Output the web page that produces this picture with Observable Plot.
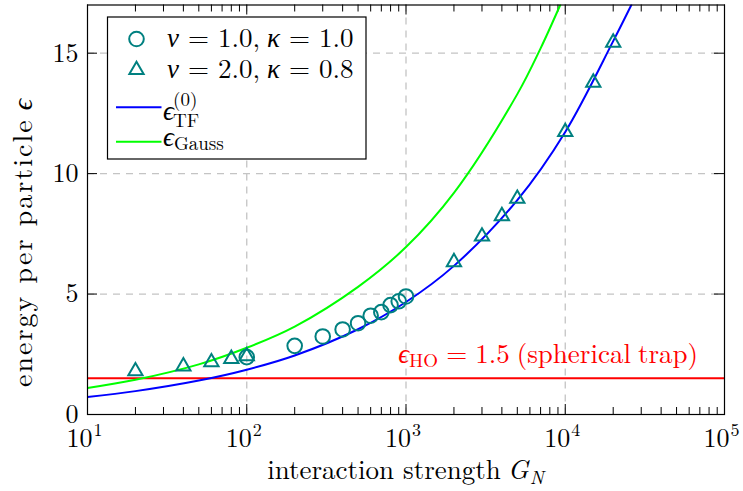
<!DOCTYPE html>
<html>
<head>
<meta charset="utf-8">
<script src="https://cdn.jsdelivr.net/npm/d3@7"></script>
<script src="https://cdn.jsdelivr.net/npm/@observablehq/plot@0.6"></script>
<style>
  html, body { margin: 0; padding: 0; background: #fff; }
</style>
</head>
<body>
<div id="chart"></div>
<script>
// Energy per particle against interaction strength G_N (log axis).

// Simulation points, nu = 1.0, kappa = 1.0
const circleG = [100, 200, 300, 400, 500, 600, 700, 800, 900, 1000];
const circleE = [2.38, 2.85, 3.24, 3.53, 3.79, 4.10, 4.25, 4.54, 4.70, 4.90];

// Simulation points, nu = 2.0, kappa = 0.8
const triG = [20, 40, 60, 80, 100, 2000, 3000, 4000, 5000, 10000, 15000, 20000];
const triE = [1.80, 2.00, 2.17, 2.31, 2.42, 6.33, 7.39, 8.24, 8.96, 11.73, 13.78, 15.44];

// Thomas-Fermi energy curve
const tfG = [10, 20, 50, 100, 200, 500, 1000, 2000, 5000, 10000, 20000, 26000];
const tfE = [0.73, 0.97, 1.41, 1.86, 2.45, 3.54, 4.67, 6.17, 8.90, 11.73, 15.50, 17.0];

// Gaussian variational energy curve
const gaussG = [10, 20, 50, 100, 200, 500, 1000, 2000, 5000, 7000, 9300];
const gaussE = [1.10, 1.44, 2.08, 2.77, 3.65, 5.30, 6.95, 9.20, 13.3, 15.2, 17.0];

// Harmonic-oscillator ground state energy
const eHO = 1.5;

// Axis ticks
const xTicks = [10, 100, 1000, 10000, 100000];
const xExponents = ["1", "2", "3", "4", "5"];
const xGrid = [100, 1000, 10000];
const yTicks = [0, 5, 10, 15];
const yGrid = [5, 10, 15];
const xMinor = [];
for (const decade of [10, 100, 1000, 10000]) {
  for (let k = 2; k <= 9; k++) xMinor.push(decade * k);
}

const FONT = "'Latin Modern Roman', 'CMU Serif', 'Liberation Serif', 'DejaVu Serif', serif";
const TEAL = "#008080";
const W = 743, H = 491;
const M = {left: 87, right: 19, top: 4.5, bottom: 77};
const innerW = W - M.left - M.right;
const innerH = H - M.top - M.bottom;
const majorLen = 10, minorLen = 7;

const circles = circleG.map((g, i) => ({g, e: circleE[i]}));
const tris = triG.map((g, i) => ({g, e: triE[i]}));
const tf = tfG.map((g, i) => ({g, e: tfE[i]}));
const gauss = gaussG.map((g, i) => ({g, e: gaussE[i]}));
const xTickData = xTicks.map((g, i) => ({g, exp: xExponents[i]}));

const gridStyle = {stroke: "#c4c4c4", strokeOpacity: 1, strokeWidth: 1.3, strokeDasharray: "7,6"};
const tickStyle = {stroke: "black", strokeOpacity: 1, strokeWidth: 1};

const plot = Plot.plot({
  width: W,
  height: H,
  marginLeft: M.left,
  marginRight: M.right,
  marginTop: M.top,
  marginBottom: M.bottom,
  x: {type: "log", domain: [10, 1e5], axis: null},
  y: {domain: [0, 17], axis: null},
  style: {fontFamily: FONT, background: "white", color: "black", overflow: "visible"},
  marks: [
    Plot.ruleX(xGrid, gridStyle),
    Plot.ruleY(yGrid, gridStyle),
    Plot.ruleX(xMinor, {...tickStyle, insetTop: innerH - minorLen}),
    Plot.ruleX(xMinor, {...tickStyle, insetBottom: innerH - minorLen}),
    Plot.ruleX(xTicks, {...tickStyle, insetTop: innerH - majorLen}),
    Plot.ruleX(xTicks, {...tickStyle, insetBottom: innerH - majorLen}),
    Plot.ruleY(yTicks, {...tickStyle, insetRight: innerW - majorLen}),
    Plot.ruleY(yTicks, {...tickStyle, insetLeft: innerW - majorLen}),
    Plot.ruleY([eHO], {stroke: "#ff0000", strokeWidth: 2}),
    Plot.line(gauss, {x: "g", y: "e", stroke: "#00ff00", strokeWidth: 2, curve: "catmull-rom", clip: true}),
    Plot.line(tf, {x: "g", y: "e", stroke: "#0000ff", strokeWidth: 2, curve: "catmull-rom", clip: true}),
    Plot.dot(circles, {x: "g", y: "e", r: 7.3, stroke: TEAL, strokeWidth: 2, fill: "none"}),
    Plot.dot(tris, {x: "g", y: "e", symbol: "triangle", r: 5.3, stroke: TEAL, strokeWidth: 2, fill: "none"}),
    Plot.frame({stroke: "black", strokeWidth: 1.2}),
    // x tick labels: mantissa and raised exponent
    Plot.text(xTickData, {x: "g", frameAnchor: "bottom", text: () => "10", textAnchor: "end",
      lineAnchor: "bottom", dx: 5, dy: 32, fontSize: 26, fill: "black"}),
    Plot.text(xTickData, {x: "g", frameAnchor: "bottom", text: "exp", textAnchor: "start",
      lineAnchor: "bottom", dx: 6, dy: 21, fontSize: 18, fill: "black"}),
    // y tick labels
    Plot.text(yTicks, {y: d => d, frameAnchor: "left", text: d => String(d), textAnchor: "end",
      dx: -9, fontSize: 26, fill: "black"})
  ]
});

document.getElementById("chart").appendChild(plot);

const svg = d3.select(plot);
const xs = plot.scale("x");

// One <text> built from tspans; each run may be italic, resized, shifted (rise) or spaced (gap).
function mathText(parent, x, y, runs, attrs = {}) {
  const t = parent.append("text").attr("x", x).attr("y", y)
    .attr("font-size", 26).attr("text-anchor", "start");
  for (const [k, v] of Object.entries(attrs)) t.attr(k, v);
  let rise = 0;
  for (const r of runs) {
    const target = r.rise || 0;
    const s = t.append("tspan").text(r.t);
    if (r.italic) s.attr("font-style", "italic");
    if (r.size) s.attr("font-size", r.size);
    if (r.gap) s.attr("dx", r.gap);
    if (target !== rise) { s.attr("dy", rise - target); rise = target; }
  }
  return t;
}

// Axis titles
mathText(svg, M.left + innerW / 2, 479, [
  {t: "interaction strength", gap: 0},
  {t: "G", italic: true, gap: 7},
  {t: "N", italic: true, size: 19, rise: -5, gap: 1}
], {"text-anchor": "middle", "font-size": 27});

mathText(svg, 0, 0, [
  {t: "energy per particle"},
  {t: "\u03F5", italic: true, gap: 8}
], {"text-anchor": "middle", "font-size": 28, textLength: 288, lengthAdjust: "spacing",
    transform: "translate(32,243) rotate(-90)"});

// Annotation for the harmonic-oscillator line
mathText(svg, xs.apply(900), 362.5, [
  {t: "\u03F5", italic: true},
  {t: "HO", size: 19, rise: -4},
  {t: "=", gap: 8},
  {t: "1.5", gap: 8},
  {t: "(spherical", gap: 7},
  {t: "trap)", gap: 7}
], {fill: "#ff0000", "font-size": 27});

// Legend
const lg = svg.append("g");
lg.append("rect")
  .attr("x", 107.5).attr("y", 17).attr("width", 258.5).attr("height", 142)
  .attr("fill", "white").attr("stroke", "black").attr("stroke-width", 1.2);
lg.append("circle")
  .attr("cx", 136.5).attr("cy", 39).attr("r", 7.3)
  .attr("fill", "none").attr("stroke", TEAL).attr("stroke-width", 2);
lg.append("path")
  .attr("d", d3.symbol(d3.symbolTriangle, Math.PI * 5.3 * 5.3)())
  .attr("transform", "translate(136.5,70)")
  .attr("fill", "none").attr("stroke", TEAL).attr("stroke-width", 2);
const legendRows = [["1.0", "1.0", 46.5], ["2.0", "0.8", 77.5]];
for (const [nu, kappa, y] of legendRows) {
  mathText(lg, 167, y, [
    {t: "\u03BD", italic: true},
    {t: "=", gap: 9},
    {t: nu + ",", gap: 9},
    {t: "\u03BA", italic: true, gap: 7},
    {t: "=", gap: 9},
    {t: kappa, gap: 9}
  ], {"font-size": 27});
}
lg.append("line").attr("x1", 116).attr("x2", 161.5).attr("y1", 107.3).attr("y2", 107.3)
  .attr("stroke", "#0000ff").attr("stroke-width", 2);
mathText(lg, 163, 120, [{t: "\u03F5", italic: true}], {"font-size": 27});
mathText(lg, 173, 106, [{t: "(0)"}], {"font-size": 19});
mathText(lg, 173, 127, [{t: "TF"}], {"font-size": 19});
lg.append("line").attr("x1", 116).attr("x2", 161.5).attr("y1", 141.7).attr("y2", 141.7)
  .attr("stroke", "#00ff00").attr("stroke-width", 2);
mathText(lg, 163, 145.5, [
  {t: "\u03F5", italic: true},
  {t: "Gauss", size: 19, rise: -4}
], {"font-size": 27});
</script>
</body>
</html>
